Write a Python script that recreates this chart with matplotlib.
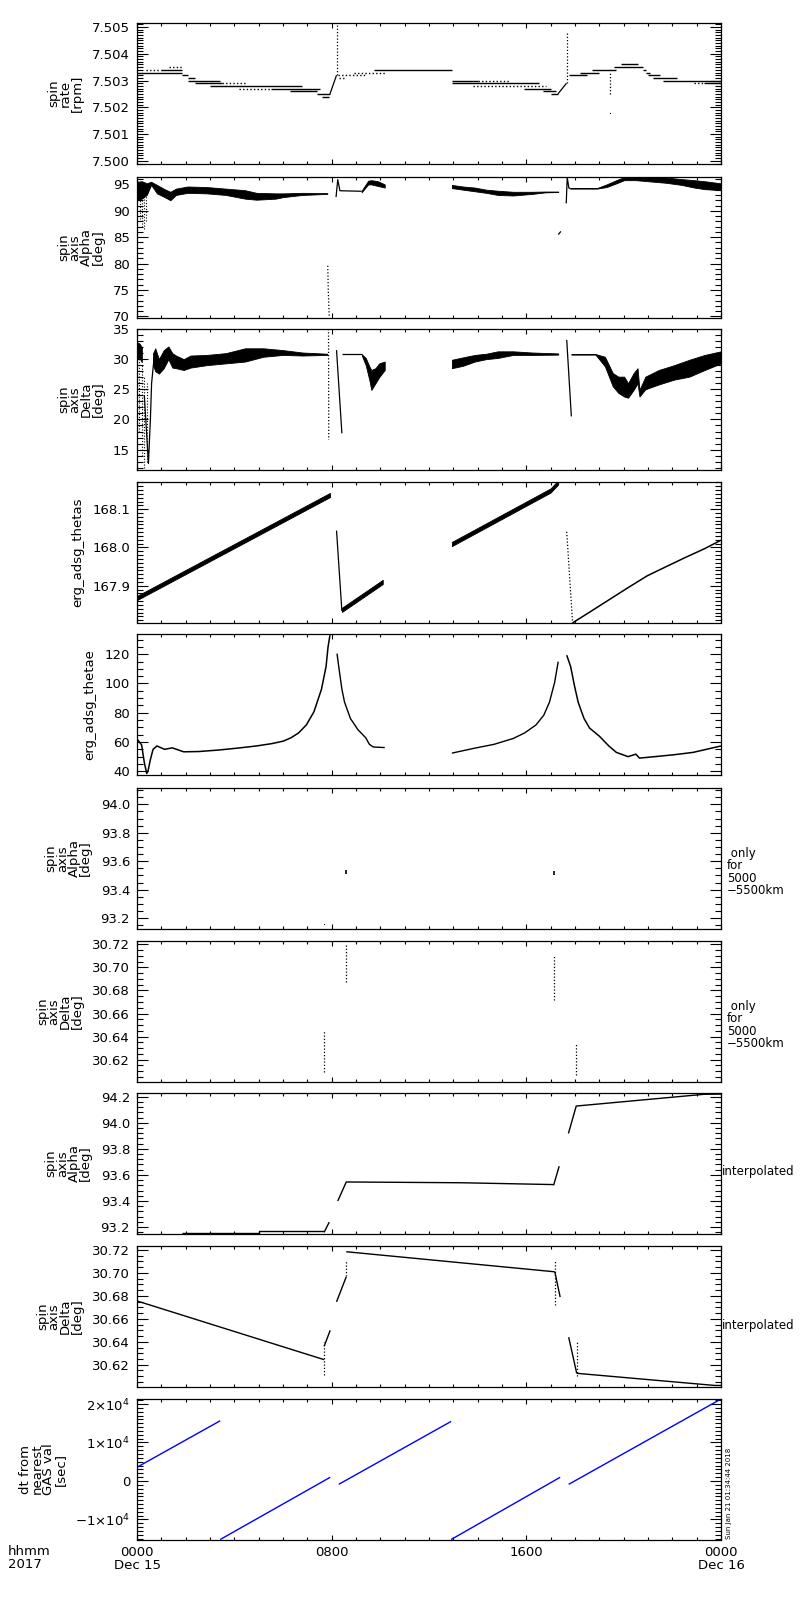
import numpy as np
import matplotlib
matplotlib.use("Agg")
import matplotlib.pyplot as plt
from matplotlib.ticker import MultipleLocator, FormatStrFormatter, FixedLocator

plt.rcParams['font.family'] = ['DejaVu Sans']
plt.rcParams['mathtext.fontset'] = 'dejavusans'

# ---------------- data (time in hours from 0000 Dec 15) ----------------
# Panel 1: spin rate, quantised horizontal runs
p1_t0 = [0.05, 0.35, 1.0, 1.3, 1.84, 2.1, 2.1, 2.4, 3.5, 3.0, 4.2, 5.5, 6.3, 7.4, 7.6,
         8.25, 8.3, 8.9, 9.75, 12.94, 14.0, 12.94, 13.8, 15.9, 16.7, 17.0,
         17.75, 18.2, 18.7, 19.6, 19.9, 20.8, 20.9, 21.0, 21.2, 21.6, 22.9, 23.3]
p1_t1 = [1.84, 1.0, 1.84, 1.84, 2.1, 2.4, 3.4, 3.5, 4.5, 6.8, 5.5, 7.5, 7.4, 7.93, 7.9,
         9.4, 8.6, 10.2, 12.94, 14.0, 15.33, 16.5, 16.8, 17.0, 17.2, 17.3,
         18.5, 19.0, 19.7, 20.8, 20.6, 20.9, 21.1, 21.5, 22.2, 24.0, 23.3, 24.0]
p1_val = [7.5033, 7.5034, 7.5034, 7.5035, 7.5032, 7.5031, 7.5030, 7.5029, 7.5029, 7.5028, 7.5027, 7.5027, 7.5026, 7.5025, 7.5024,
          7.5032, 7.5031, 7.5033, 7.5034, 7.5030, 7.5030, 7.5029, 7.5028, 7.5027, 7.5026, 7.5025,
          7.5032, 7.5033, 7.5034, 7.5035, 7.5036, 7.5034, 7.5033, 7.5032, 7.5031, 7.5030, 7.5029, 7.5029]
p1_dot = [0, 1, 0, 1, 0, 0, 0, 0, 1, 0, 1, 0, 0, 0, 0,
          1, 1, 1, 0, 0, 1, 0, 1, 0, 0, 0,
          0, 0, 0, 0, 0, 0, 0, 0, 0, 0, 1, 0]
p1_jump_h = [[7.93, 8.2], [17.3, 17.65]]
p1_jump_v = [[7.5025, 7.5032], [7.5025, 7.5029]]
p1_spike_h = [8.2, 17.69, 19.44]
p1_spike_lo = [7.5032, 7.5029, 7.5025]
p1_spike_hi = [7.5051, 7.50478, 7.5033]
p1_iso_h = [19.44]
p1_iso_v = [7.50177]

# Panel 2: spin axis Alpha (bands = lower/upper envelope)
p2a_h = [0.0, 0.2, 0.4, 0.58, 0.82, 1.13, 1.37, 1.6, 2.08, 2.86, 3.65, 4.44, 4.91, 5.70, 6.01, 6.80, 7.82]
p2a_hi = [95.5, 95.6, 95.2, 95.5, 94.9, 94.1, 93.6, 94.2, 94.6, 94.5, 94.2, 93.9, 93.4, 93.3, 93.3, 93.4, 93.35]
p2a_lo = [92.0, 92.3, 93.0, 94.9, 93.3, 92.6, 92.0, 93.0, 93.4, 93.3, 93.0, 92.3, 92.1, 92.3, 92.6, 93.0, 93.2]
p2_sc_h = [0.12, 0.2, 0.28, 0.36]
p2_sc_lo = [88.5, 87.0, 86.5, 88.0]
p2_sc_hi = [92.0, 92.3, 92.5, 92.8]
p2_spike_h = [7.84, 7.86, 7.9]
p2_spike_v = [79.6, 75.0, 69.8]
p2b_h = [8.18, 8.25, 8.34, 9.23]
p2b_v = [92.6, 95.9, 93.8, 93.7]
p2c_h = [9.23, 9.5, 9.63, 9.9, 10.18]
p2c_hi = [93.8, 95.7, 95.8, 95.6, 95.0]
p2c_lo = [93.5, 95.0, 95.0, 94.7, 94.4]
p2d_h = [12.94, 13.4, 13.88, 14.35, 14.83, 15.46, 16.24, 16.8, 17.31]
p2d_hi = [94.9, 94.6, 94.4, 94.0, 93.8, 93.6, 93.6, 93.65, 93.65]
p2d_lo = [94.3, 94.0, 93.7, 93.4, 93.0, 92.9, 93.2, 93.5, 93.55]
p2e_h = [17.31, 17.42]
p2e_v = [85.5, 86.1]
p2f_h = [17.64, 17.68, 17.75, 17.8]
p2f_v = [91.4, 96.3, 94.3, 94.25]
p2g_h = [17.8, 18.9, 19.3, 19.7, 20.02, 20.5, 21.0, 21.75, 22.38, 22.9, 23.33, 24.0]
p2g_hi = [94.3, 94.3, 95.0, 95.8, 96.4, 96.4, 96.4, 96.3, 96.0, 95.8, 95.6, 95.2]
p2g_lo = [94.2, 94.2, 94.5, 95.2, 95.8, 95.8, 95.6, 95.3, 94.9, 94.4, 94.1, 93.9]

# Panel 3: spin axis Delta
p3a_h = [0.0, 0.1, 0.2]
p3a_hi = [32.8, 32.6, 32.0]
p3a_lo = [30.0, 30.2, 29.5]
p3_sc_h = [0.1, 0.2, 0.3, 0.4]
p3_sc_lo = [18.0, 14.0, 12.0, 13.0]
p3_sc_hi = [30.0, 29.0, 27.0, 26.0]
p3b_h = [0.3, 0.47, 0.55, 0.6, 0.7]
p3b_v = [24.0, 12.7, 20.0, 26.0, 30.1]
p3c_h = [0.66, 0.75, 0.9, 1.1, 1.29, 1.45, 1.6, 1.92, 2.2, 2.86, 3.65, 4.44, 5.2, 6.0, 6.8, 7.82]
p3c_hi = [31.0, 31.8, 30.0, 31.5, 32.1, 31.0, 30.6, 30.0, 30.6, 30.7, 31.0, 31.8, 31.8, 31.5, 31.1, 30.9]
p3c_lo = [29.0, 28.0, 27.6, 28.5, 30.0, 28.6, 28.5, 28.2, 28.6, 29.0, 29.3, 29.6, 30.4, 30.7, 30.6, 30.7]
p3_spike_h = [7.87, 7.88]
p3_spike_v = [35.0, 16.6]
p3d_h = [8.2, 8.42]
p3d_v = [31.5, 17.7]
p3e_h = [8.42, 9.24]
p3e_v = [30.8, 30.8]
p3f_h = [9.24, 9.4, 9.55, 9.63, 9.8, 9.95, 10.18]
p3f_hi = [30.8, 30.2, 28.8, 28.2, 28.5, 29.3, 29.6]
p3f_lo = [30.6, 29.0, 26.5, 24.9, 26.0, 27.0, 28.2]
p3g_h = [12.94, 13.4, 13.88, 14.35, 14.83, 15.46, 16.24, 17.31]
p3g_hi = [29.9, 30.3, 30.7, 30.9, 31.3, 31.3, 31.1, 30.95]
p3g_lo = [28.5, 28.9, 29.6, 30.0, 30.2, 30.7, 30.7, 30.75]
p3h_h = [17.66, 17.85]
p3h_v = [33.2, 20.5]
p3i_h = [17.85, 18.84, 19.23, 19.55, 19.78, 20.02, 20.18, 20.41, 20.57, 20.65, 20.89, 21.44, 22.07, 22.7, 23.33, 24.0]
p3i_hi = [30.85, 30.85, 30.4, 27.7, 27.1, 27.1, 26.0, 27.7, 28.5, 24.9, 27.1, 28.2, 29.0, 29.9, 30.7, 31.3]
p3i_lo = [30.75, 30.75, 28.8, 25.5, 24.4, 23.8, 23.6, 24.9, 26.0, 23.8, 25.0, 25.8, 26.6, 27.1, 28.2, 29.3]

# Panel 4: erg_adsg_thetas (centre of band, half width)
p4a_h = [0.0, 7.93]
p4a_v = [167.868, 168.137]
p4b_h = [8.2, 8.42]
p4b_v = [168.044, 167.834]
p4c_h = [8.42, 10.1]
p4c_v = [167.837, 167.910]
p4d_h = [12.94, 17.0, 17.31]
p4d_v = [168.009, 168.149, 168.170]
p4e_h = [17.66, 17.9]
p4e_v = [168.041, 167.803]
p4f_h = [17.9, 18.6, 19.39, 20.18, 20.97, 21.75, 22.54, 23.33, 24.0]
p4f_v = [167.803, 167.831, 167.863, 167.895, 167.926, 167.950, 167.974, 167.997, 168.019]
p4_half = 0.0055

# Panel 5: erg_adsg_thetae
p5a_h = [0.0, 0.1, 0.19, 0.3, 0.4, 0.45, 0.55, 0.66, 0.82, 1.13, 1.45, 1.92, 2.55, 3.34, 4.12, 4.91,
         5.54, 6.01, 6.33, 6.64, 6.96, 7.27, 7.58, 7.77, 7.85, 7.93]
p5a_v = [62.0, 60.0, 58.0, 46.0, 38.5, 40.0, 48.0, 55.0, 57.3, 55.0, 56.0, 53.3, 53.5, 54.5, 55.8, 57.3,
         58.9, 60.6, 62.9, 66.2, 71.7, 80.6, 96.0, 111.6, 124.8, 133.0]
p5b_h = [8.22, 8.29, 8.42, 8.53, 8.77, 9.08, 9.4, 9.55, 9.71, 10.18]
p5b_v = [120.4, 111.6, 96.1, 87.2, 76.1, 68.4, 62.9, 58.4, 56.6, 56.2]
p5c_h = [12.94, 13.88, 14.67, 15.46, 15.93, 16.4, 16.72, 16.95, 17.16, 17.31]
p5c_v = [52.4, 55.8, 58.4, 62.4, 66.2, 71.7, 78.4, 87.2, 100.5, 114.9]
p5d_h = [17.66, 17.82, 17.98, 18.13, 18.37, 18.6, 19.0, 19.39, 19.7, 20.18, 20.5, 20.65, 21.28, 22.07, 22.85, 24.0]
p5d_v = [119.3, 111.6, 98.3, 87.2, 76.1, 69.5, 64.0, 57.3, 52.9, 50.0, 51.7, 49.0, 50.0, 51.3, 52.9, 57.3]

# Panel 6: spin axis Alpha, 5000-5500 km only
p6_h = [8.57, 17.12]
p6_lo = [93.51, 93.50]
p6_hi = [93.536, 93.53]
p6_dot_h = [7.69]
p6_dot_v = [93.16]

# Panel 7: spin axis Delta, 5000-5500 km only
p7_h = [7.69, 8.57, 17.12, 18.05]
p7_lo = [30.609, 30.6875, 30.6716, 30.6064]
p7_hi = [30.646, 30.721, 30.7107, 30.634]

# Panel 8: spin axis Alpha interpolated
p8_segs_h = [[1.84, 5.0, 5.0, 7.69], [7.69, 7.9], [8.25, 8.6, 13.34, 17.12], [17.12, 17.35], [17.73, 18.05, 23.3, 24.0]]
p8_segs_v = [[93.157, 93.157, 93.167, 93.167], [93.16, 93.238], [93.4, 93.546, 93.54, 93.526], [93.52, 93.667], [93.918, 94.128, 94.218, 94.22]]

# Panel 9: spin axis Delta interpolated
p9_segs_h = [[0.0, 7.69], [7.69, 7.94], [8.2, 8.6], [8.6, 17.17], [17.17, 17.39], [17.74, 18.07], [18.07, 23.75, 24.0]]
p9_segs_v = [[30.6756, 30.6244], [30.636, 30.650], [30.6748, 30.6967], [30.7185, 30.701], [30.701, 30.679],
             [30.644, 30.6126], [30.6125, 30.6019, 30.6019]]
p9_dots_h = [7.69, 8.6, 17.17, 18.07]
p9_dots_lo = [30.6106, 30.697, 30.672, 30.610]
p9_dots_hi = [30.640, 30.711, 30.711, 30.640]

# Panel 10: dt from nearest GAS val [sec]
p10_segs_h = [[0.0, 3.42], [3.42, 7.94], [8.29, 12.91], [12.91, 17.39], [17.74, 24.0]]
p10_segs_v = [[3570, 15650], [-15200, 960], [-870, 15480], [-15200, 960], [-870, 21300]]

# axis setup
ylabels = ['spin\nrate\n[rpm]', 'spin\naxis\nAlpha\n[deg]', 'spin\naxis\nDelta\n[deg]',
           'erg_adsg_thetas', 'erg_adsg_thetae', 'spin\naxis\nAlpha\n[deg]', 'spin\naxis\nDelta\n[deg]',
           'spin\naxis\nAlpha\n[deg]', 'spin\naxis\nDelta\n[deg]', 'dt from\nnearest\nGAS val\n[sec]']
ylims = [(7.4999, 7.50515), (69.8, 96.4), (11.7, 35.0), (167.804, 168.171), (37.8, 133.8),
         (93.127, 94.115), (30.6011, 30.7229), (93.151, 94.228), (30.601, 30.7235), (-15200, 21300)]
ymajor = [0.001, 5, 5, 0.1, 20, 0.2, 0.02, 0.2, 0.02, 10000]
yminor = [0.0001, 1, 1, 0.01, 5, 0.05, 0.005, 0.04, 0.005, 1000]
yfmt = ['%.3f', '%d', '%d', '%.1f', '%d', '%.1f', '%.2f', '%.1f', '%.2f', None]
xtick_vals = [0, 8, 16, 24]
xtick_labels = ['0000\nDec 15', '0800', '1600', '0000\nDec 16']
p10_ticks = [-10000, 0, 10000, 20000]
p10_labels = ['\u22121\u00d710$^{4}$', '0', '1\u00d710$^{4}$', '2\u00d710$^{4}$']

# ---------------- figure ----------------
W, H = 800, 1600
fig = plt.figure(figsize=(8, 16), dpi=100)
left_px, right_px = 137, 721
tops = [23, 177, 329, 482, 634, 788, 941, 1093, 1246, 1399]
ph = 140.5
axes = []
for i, t in enumerate(tops):
    ax = fig.add_axes([left_px / W, 1 - (t + ph) / H, (right_px - left_px) / W, ph / H])
    ax.set_xlim(0, 24)
    ax.set_ylim(*ylims[i])
    ax.xaxis.set_major_locator(FixedLocator(xtick_vals))
    ax.xaxis.set_minor_locator(MultipleLocator(1))
    if i == 9:
        ax.yaxis.set_major_locator(FixedLocator(p10_ticks))
        ax.set_yticklabels(p10_labels)
    else:
        ax.yaxis.set_major_locator(MultipleLocator(ymajor[i]))
        ax.yaxis.set_major_formatter(FormatStrFormatter(yfmt[i]))
    ax.yaxis.set_minor_locator(MultipleLocator(yminor[i]))
    ax.tick_params(which='both', direction='in', top=True, right=True, width=0.8,
                   labelsize=9.5, colors='k')
    ax.tick_params(axis='y', which='major', length=7.7, pad=5)
    ax.tick_params(axis='y', which='minor', length=4)
    ax.tick_params(axis='x', which='major', length=3.5)
    ax.tick_params(axis='x', which='minor', length=2)
    if i < 9:
        ax.tick_params(axis='x', labelbottom=False)
    else:
        ax.set_xticklabels(xtick_labels, linespacing=0.95)
        ax.tick_params(axis='x', which='major', pad=5)
    for s in ax.spines.values():
        s.set_linewidth(0.9)
    ax.set_ylabel(ylabels[i], fontsize=9.5, linespacing=0.85, labelpad=6)
    axes.append(ax)

K = 'k'
LW = 0.9
DOT = (0, (1, 1.6))

def band(ax, h, lo, hi):
    ax.fill_between(h, lo, hi, color=K, linewidth=0.6, edgecolor=K)

def line(ax, h, v, ls='-', lw=LW, color=K):
    ax.plot(h, v, color=color, lw=lw, ls=ls, solid_capstyle='butt')

# panel 1
a = axes[0]
for t0, t1, v, d in zip(p1_t0, p1_t1, p1_val, p1_dot):
    a.hlines(v, t0, t1, colors=K, lw=1.0, linestyles=DOT if d else '-')
for hh, vv in zip(p1_jump_h, p1_jump_v):
    line(a, hh, vv)
a.vlines(p1_spike_h, p1_spike_lo, p1_spike_hi, colors=K, lw=0.9, linestyles=DOT)
a.plot(p1_iso_h, p1_iso_v, 's', color=K, ms=0.8, mew=0)

# panel 2
a = axes[1]
band(a, p2a_h, p2a_lo, p2a_hi)
a.vlines(p2_sc_h, p2_sc_lo, p2_sc_hi, colors=K, lw=0.8, linestyles=DOT)
line(a, p2_spike_h, p2_spike_v, ls=DOT)
line(a, p2b_h, p2b_v)
band(a, p2c_h, p2c_lo, p2c_hi)
band(a, p2d_h, p2d_lo, p2d_hi)
line(a, p2e_h, p2e_v)
line(a, p2f_h, p2f_v)
band(a, p2g_h, p2g_lo, p2g_hi)

# panel 3
a = axes[2]
band(a, p3a_h, p3a_lo, p3a_hi)
a.vlines(p3_sc_h, p3_sc_lo, p3_sc_hi, colors=K, lw=0.8, linestyles=DOT)
line(a, p3b_h, p3b_v)
band(a, p3c_h, p3c_lo, p3c_hi)
line(a, p3_spike_h, p3_spike_v, ls=DOT)
line(a, p3d_h, p3d_v)
line(a, p3e_h, p3e_v)
band(a, p3f_h, p3f_lo, p3f_hi)
band(a, p3g_h, p3g_lo, p3g_hi)
line(a, p3h_h, p3h_v)
band(a, p3i_h, p3i_lo, p3i_hi)

# panel 4
a = axes[3]
for hh, vv in [(p4a_h, p4a_v), (p4c_h, p4c_v), (p4d_h, p4d_v)]:
    vv = np.array(vv)
    band(a, hh, vv - p4_half, vv + p4_half)
line(a, p4b_h, p4b_v)
line(a, p4e_h, p4e_v, ls=DOT)
line(a, p4f_h, p4f_v, lw=1.1)

# panel 5
a = axes[4]
line(a, p5a_h, p5a_v, lw=1.1)
line(a, p5b_h, p5b_v, lw=1.0)
line(a, p5c_h, p5c_v, lw=1.0)
line(a, p5d_h, p5d_v, lw=1.1)

# panel 6
a = axes[5]
a.vlines(p6_h, p6_lo, p6_hi, colors=K, lw=1.2)
a.plot(p6_dot_h, p6_dot_v, 's', color=K, ms=0.6, mew=0)

# panel 7
a = axes[6]
a.vlines(p7_h, p7_lo, p7_hi, colors=K, lw=0.9, linestyles=DOT)

# panel 8
a = axes[7]
for hh, vv in zip(p8_segs_h, p8_segs_v):
    line(a, hh, vv, lw=1.0)

# panel 9
a = axes[8]
for hh, vv in zip(p9_segs_h, p9_segs_v):
    line(a, hh, vv, lw=1.0)
a.vlines(p9_dots_h, p9_dots_lo, p9_dots_hi, colors=K, lw=0.9, linestyles=DOT)

# panel 10
a = axes[9]
for hh, vv in zip(p10_segs_h, p10_segs_v):
    line(a, hh, vv, lw=1.0, color='#0000ff')

# side annotations
for yc in [872, 1025]:
    fig.text(727 / W, 1 - yc / H, ' only\nfor\n5000\n\u22125500km', fontsize=8.5,
             ha='left', va='center', linespacing=0.95)
for yc in [1172, 1325]:
    fig.text(722 / W, 1 - yc / H, 'interpolated', fontsize=8.5, ha='left', va='center')
fig.text(729 / W, 1 - 1539 / H, 'Sun Jan 21 01:34:44 2018', fontsize=5, rotation=90,
         ha='center', va='bottom')
fig.text(8 / W, 1 - 1545 / H, 'hhmm\n2017', fontsize=9.5, ha='left', va='top', linespacing=0.95)

fig.savefig('out.png', dpi=100)
